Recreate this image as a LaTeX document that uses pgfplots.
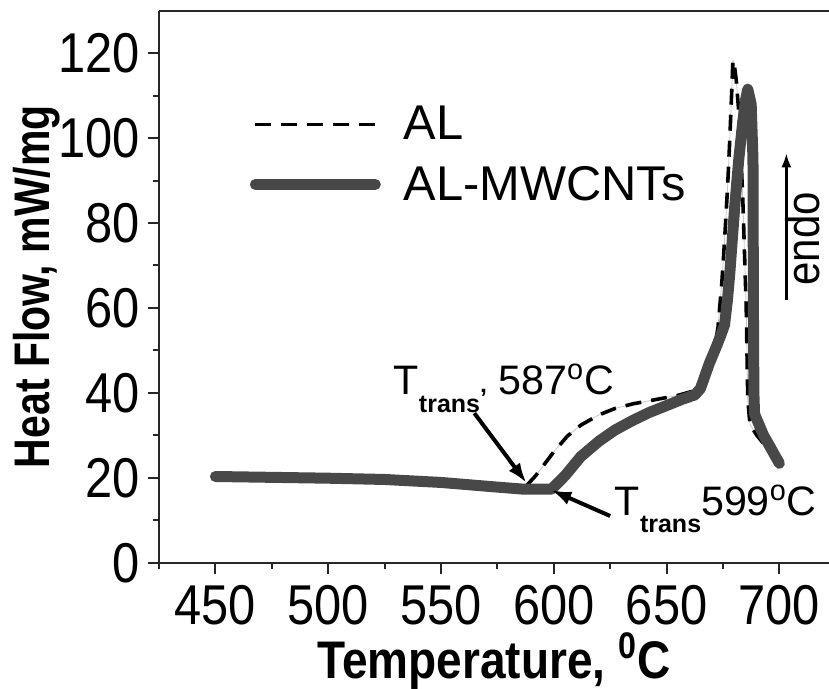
\documentclass[border=0pt]{standalone}
\usepackage{fontspec}
\setmainfont{Liberation Sans}
\usepackage{graphicx}
\usepackage{pgfplots}
\usepackage{pgfplotstable}
\pgfplotsset{compat=1.18}
\usetikzlibrary{arrows.meta}

\definecolor{cnt}{RGB}{72,72,72}

% AL (dashed)
\pgfplotstableread{
T Hf
450 20.9
475 20.5
500 20.2
525 19.8
550 19.1
575 18.1
588 18.2
592 20.5
596 23.3
600 26.1
606 29.8
612 32.4
620 34.8
627 36.3
635 37.4
645 38.4
655 39.4
663 40.6
667 42.5
670 46
672.8 55.5
674.5 66
675.7 75.9
677 88
678 99.5
678.8 110
679.4 118.3
680.2 116.5
680.9 113.6
682.4 103.4
683.9 83.8
685.3 60.2
686 38.3
687 32.5
690 30
700 23.5
}\al

% AL-MWCNTs (thick)
\pgfplotstableread{
T Hf
450 20.3
475 20.1
500 19.9
525 19.6
550 18.9
575 17.8
587 17.3
599 17.3
605 20.5
612 25.0
620 28.6
627 31.2
635 33.5
642 35.3
650 37.0
657 38.5
662.5 39.5
665 41
667 44
669 47
672 50.8
674 53.5
675.7 56
677 62
678 68
680.2 83.8
682 95
683.6 103
685 109
686 111.5
687.5 108
688.3 95
688.5 60
688.7 40
689 35
693 30
700 23.4
}\cnt

\begin{document}
\begin{tikzpicture}
\begin{axis}[
  scale only axis, width=335pt, height=276pt,
  xmin=425, xmax=722, ymin=0, ymax=130,
  clip=false,
  axis x line=box, axis y line=left,
  x axis line style={-}, y axis line style={-},
  axis line style={line width=1pt, black!85},
  xtick={450,500,...,700}, minor xtick={425,475,...,700},
  ytick={0,20,...,120}, minor ytick={10,30,...,110},
  xtick pos=left, ytick pos=left,
  tick align=outside, major tick length=5.5pt, minor tick length=3pt,
  every tick/.style={line width=1pt, black!85},
  xticklabel={\scalebox{1}[1.15]{\pgfmathprintnumber[assume math mode=true]{\tick}}},
  yticklabel={\scalebox{1}[1.15]{\pgfmathprintnumber[assume math mode=true]{\tick}}},
  ticklabel style={font=\fontsize{24.4}{24.4}\selectfont},
  xticklabel style={inner sep=5.5pt},
  yticklabel style={inner sep=4pt},
  xlabel={\scalebox{1}[1.15]{\bfseries Temperature, \textsuperscript{0}C}},
  xlabel style={at={(rel axis cs:0.5,-0.2105)}, anchor=base, inner sep=0pt,
    font=\fontsize{23}{23}\selectfont},
  legend style={at={(rel axis cs:0.135,0.831)}, anchor=north west,
    draw=none, fill=none, inner sep=0pt, row sep=9.5pt, column sep=10.5pt,
    font=\fontsize{24.4}{24.4}\selectfont, nodes={inner sep=1pt}},
  legend cell align=left,
  legend image code/.code={\draw[#1] (0pt,0pt) -- (60pt,0pt);},
]
\addplot[gray!45, line width=0.4pt, forget plot] table[x=T, y=Hf] {\al};
\addplot[black, line width=1.8pt, dash pattern=on 8pt off 5pt] table[x=T, y=Hf] {\al};
\addlegendentry{AL}
\addplot[cnt, line width=5.5pt, line join=round, line cap=round] table[x=T, y=Hf] {\cnt};
\addlegendentry{AL-MWCNTs}

% y label, set by hand so that its baseline sits where the reference has it
\node[rotate=90, anchor=base, inner sep=0pt, font=\fontsize{20.5}{20.5}\selectfont]
  at (rel axis cs:-0.1627,0.5) {\scalebox{1}[1.22]{\bfseries Heat Flow, mW/mg}};

\node[anchor=base west, inner sep=0pt, font=\fontsize{20.6}{20.6}\selectfont]
  at (axis cs:528.9,39.5)
  {T\raisebox{-9pt}{\fontsize{12.5}{12.5}\bfseries trans\raisebox{3pt}{’}}\ 587\textsuperscript{o}C};
\draw[line width=2pt, -{Latex[length=10pt,width=7pt]}]
  (axis cs:564.8,35.2) -- (axis cs:587.9,18.8);

\node[anchor=base west, inner sep=0pt, font=\fontsize{20.6}{20.6}\selectfont]
  at (axis cs:626.9,11.2)
  {T\raisebox{-8.5pt}{\fontsize{12.5}{12.5}\bfseries trans}599\textsuperscript{o}C};
\draw[line width=2pt, -{Latex[length=10pt,width=7pt]}]
  (axis cs:625,11) -- (axis cs:598.9,17.1);

\draw[line width=1.2pt, -{Latex[length=7pt,width=5pt]}]
  (axis cs:703.1,61.8) -- (axis cs:703.1,96.4);
\node[rotate=90, anchor=base, inner sep=0pt, font=\fontsize{21}{21}\selectfont]
  at (axis cs:717.7,76.3) {\scalebox{1}[1.12]{endo}};

\coordinate (ll) at (rel axis cs:0,0);
\coordinate (ur) at (rel axis cs:1,1);
\end{axis}
\pgfresetboundingbox
\path ([shift={(-79.5pt,-63.15pt)}]ll) rectangle ([shift={(0pt,5.35pt)}]ur);
\end{tikzpicture}
\end{document}
